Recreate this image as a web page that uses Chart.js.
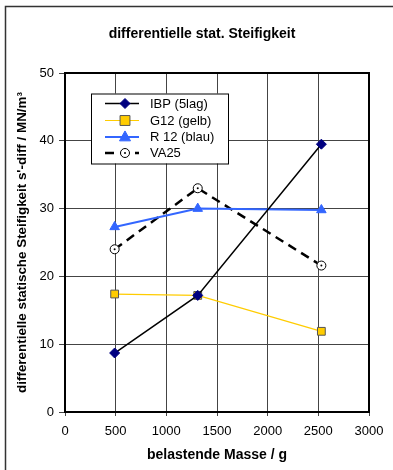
<!DOCTYPE html>
<html>
<head>
<meta charset="utf-8">
<script src="https://cdn.jsdelivr.net/npm/chart.js@4/dist/chart.umd.min.js"></script>
<style>
html,body{margin:0;padding:0;background:#fff;}
#wrap{position:relative;width:393px;height:470px;}
</style>
</head>
<body>
<div id="wrap"><canvas id="c" width="393" height="470"></canvas></div>
<script>
const chartTitle = 'differentielle stat. Steifigkeit';
const xTitle = 'belastende Masse / g';
const yTitle = "differentielle statische Steifigkeit s'-diff / MN/m³";
const seriesNames = ['IBP (5lag)', 'G12 (gelb)', 'R 12 (blau)', 'VA25'];
const xIBP = [490, 1310, 2530];
const yIBP = [8.7, 17.2, 39.5];
const xG12 = [490, 1310, 2530];
const yG12 = [17.4, 17.2, 11.9];
const xR12 = [490, 1310, 2530];
const yR12 = [27.3, 30.0, 29.8];
const xVA25 = [490, 1310, 2530];
const yVA25 = [24.0, 33.0, 21.6];
const xTicks = [0, 500, 1000, 1500, 2000, 2500, 3000];
const yTicks = [0, 10, 20, 30, 40, 50];

const pts = (xs, ys) => xs.map((x, i) => ({x: x, y: ys[i]}));
const FONT = 'Arial, "Liberation Sans", sans-serif';

function drawMarker(ctx, style, r, x, y) {
  ctx.beginPath();
  if (style === 'rectRot') {
    ctx.moveTo(x, y - r); ctx.lineTo(x + r, y); ctx.lineTo(x, y + r); ctx.lineTo(x - r, y); ctx.closePath();
  } else if (style === 'rect') {
    ctx.rect(x - r * 0.9, y - r * 0.9, r * 1.8, r * 1.8);
  } else if (style === 'triangle') {
    ctx.moveTo(x, y - r * 1.1); ctx.lineTo(x + r, y + r * 0.7); ctx.lineTo(x - r, y + r * 0.7); ctx.closePath();
  } else {
    ctx.arc(x, y, r, 0, Math.PI * 2);
  }
  ctx.fill(); ctx.stroke();
}

const frame = {
  id: 'frame',
  beforeDatasetsDraw(chart) {
    const {ctx, chartArea: a} = chart;
    ctx.save();
    ctx.strokeStyle = '#000';
    ctx.lineWidth = 2;
    ctx.strokeRect(a.left, a.top, a.right - a.left, a.bottom - a.top);
    ctx.restore();
  },
  afterDraw(chart) {
    const ctx = chart.ctx;
    ctx.save();
    ctx.strokeStyle = '#333';
    ctx.lineWidth = 1.5;
    ctx.beginPath();
    ctx.moveTo(5.5, 480);
    ctx.lineTo(5.5, 6.5);
    ctx.lineTo(400, 6.5);
    ctx.stroke();
    // chart title
    ctx.fillStyle = '#000';
    ctx.font = 'bold 14px ' + FONT;
    ctx.textAlign = 'center';
    ctx.textBaseline = 'middle';
    ctx.fillText(chartTitle, 202, 34);
    // legend
    const lx = 91, ly = 93.5, lw = 137, lh = 70;
    ctx.fillStyle = '#fff';
    ctx.fillRect(lx, ly, lw, lh);
    ctx.strokeStyle = '#000';
    ctx.lineWidth = 1;
    ctx.strokeRect(lx + 0.5, ly + 0.5, lw, lh);
    const rows = [103.5, 120.5, 137, 153];
    chart.data.datasets.forEach((ds, i) => {
      const y = rows[i];
      ctx.save();
      ctx.strokeStyle = ds.borderColor;
      ctx.lineWidth = ds.borderWidth;
      ctx.setLineDash(ds.borderDash || []);
      ctx.beginPath();
      ctx.moveTo(105, y);
      ctx.lineTo(139, y);
      ctx.stroke();
      ctx.restore();
      ctx.save();
      ctx.fillStyle = ds.pointBackgroundColor;
      ctx.strokeStyle = ds.pointBorderColor;
      ctx.lineWidth = ds.pointBorderWidth;
      drawMarker(ctx, ds.pointStyle, ds.pointRadius, 125, y);
      ctx.restore();
      if (ds.label === 'VA25') {
        ctx.fillStyle = '#000';
        ctx.beginPath(); ctx.arc(125, y, 1, 0, Math.PI * 2); ctx.fill();
      }
      ctx.fillStyle = '#000';
      ctx.font = '13px ' + FONT;
      ctx.textBaseline = 'middle';
      ctx.textAlign = 'left';
      ctx.fillText(ds.label, 150, y + 0.5);
    });
    // center dots of VA25 markers
    const meta = chart.getDatasetMeta(3);
    ctx.fillStyle = '#000';
    meta.data.forEach(p => { ctx.beginPath(); ctx.arc(p.x, p.y, 1, 0, Math.PI * 2); ctx.fill(); });
    ctx.restore();
  }
};

new Chart(document.getElementById('c'), {
  type: 'scatter',
  data: {
    datasets: [
      {label: seriesNames[0], data: pts(xIBP, yIBP), showLine: true, borderColor: '#000', borderWidth: 1.5,
       pointStyle: 'rectRot', pointRadius: 5, pointBackgroundColor: '#000080', pointBorderColor: '#000080', pointBorderWidth: 1},
      {label: seriesNames[1], data: pts(xG12, yG12), showLine: true, borderColor: '#FFCC00', borderWidth: 1.2,
       pointStyle: 'rect', pointRadius: 5.5, pointBackgroundColor: '#FFCC00', pointBorderColor: '#555', pointBorderWidth: 1},
      {label: seriesNames[2], data: pts(xR12, yR12), showLine: true, borderColor: '#3366FF', borderWidth: 2,
       pointStyle: 'triangle', pointRadius: 5.5, pointBackgroundColor: '#3366FF', pointBorderColor: '#3366FF', pointBorderWidth: 1},
      {label: seriesNames[3], data: pts(xVA25, yVA25), showLine: true, borderColor: '#000', borderWidth: 2.5, borderDash: [9, 6],
       pointStyle: 'circle', pointRadius: 4.5, pointBackgroundColor: '#fff', pointBorderColor: '#000', pointBorderWidth: 1}
    ]
  },
  options: {
    responsive: false,
    animation: false,
    devicePixelRatio: 1,
    layout: {padding: {left: 12, right: 24, top: 73, bottom: 6}},
    plugins: {
      legend: {display: false},
      tooltip: {enabled: false},
      title: {display: false}
    },
    scales: {
      x: {
        type: 'linear', min: 0, max: 3000,
        afterBuildTicks: s => { s.ticks = xTicks.map(v => ({value: v})); },
        afterFit: s => { s.height = 52; },
        ticks: {color: '#000', font: {family: FONT, size: 13}, padding: 8, maxRotation: 0, callback: v => String(v)},
        grid: {color: '#444', lineWidth: 1, tickLength: 4, tickColor: '#444'},
        border: {display: true, color: '#000', width: 2},
        title: {display: true, text: xTitle, color: '#000', font: {family: FONT, size: 14, weight: 'bold', lineHeight: 1.2}, padding: {top: 0, bottom: 0}}
      },
      y: {
        type: 'linear', min: 0, max: 50,
        afterBuildTicks: s => { s.ticks = yTicks.map(v => ({value: v})); },
        afterFit: s => { s.width = 53; },
        ticks: {color: '#000', font: {family: FONT, size: 13}, padding: 5, callback: v => String(v)},
        grid: {color: '#444', lineWidth: 1, tickLength: 6, tickColor: '#444'},
        border: {display: true, color: '#000', width: 2},
        title: {display: true, text: yTitle, color: '#000', font: {family: FONT, size: 13.4, weight: 'bold', lineHeight: 1.2}, padding: {top: 2, bottom: 0}}
      }
    }
  },
  plugins: [frame]
});
</script>
</body>
</html>
